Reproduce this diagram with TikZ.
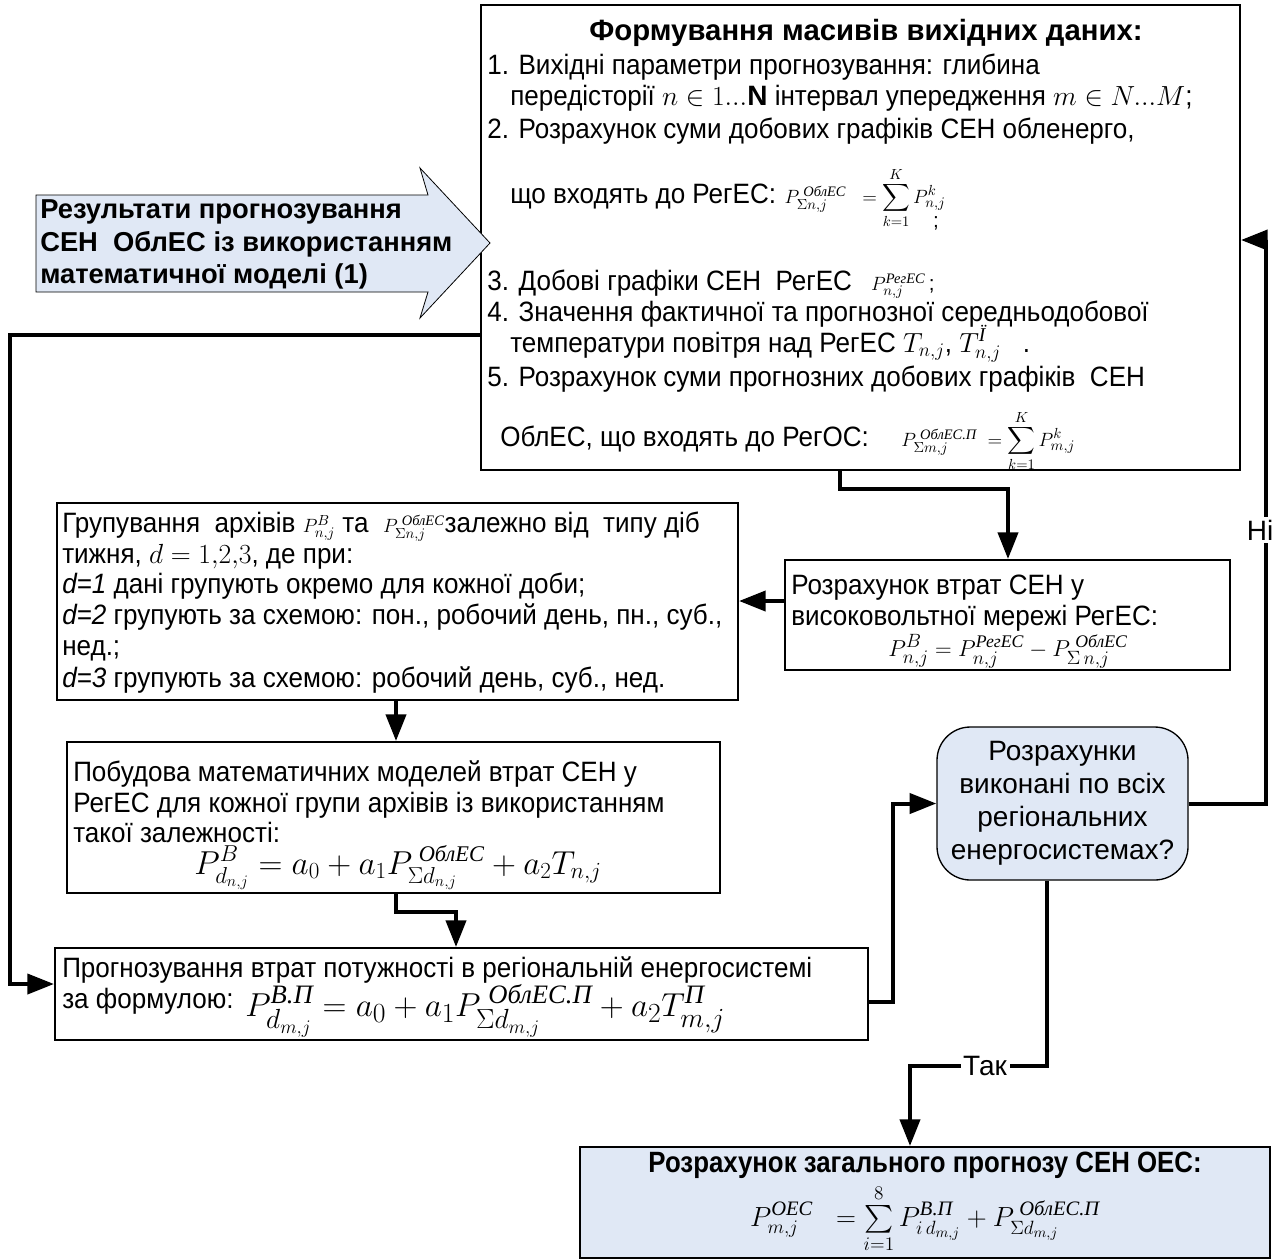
\documentclass[tikz,border=0pt]{standalone}
\usepackage{amsmath}
\usepackage{fontspec}
\setmainfont{Liberation Sans}
\newfontfamily\nar[FakeStretch=0.93]{Liberation Sans}
\newfontfamily\narb[FakeStretch=0.88]{Liberation Sans}
\newfontfamily\tms{Liberation Serif}
\usetikzlibrary{arrows.meta,calc,fit}
\newcommand\cy[1]{\text{\tms\itshape #1}}
\newcommand\tf{\fontsize{21}{25}\selectfont\nar}
\newcommand\sm{\fontsize{15.5}{18}\selectfont}
\definecolor{lb}{RGB}{224,232,245}
\begin{document}
\begin{tikzpicture}[x=0.75pt,y=-0.75pt,
  box/.style={draw,line width=1.5pt,inner sep=0pt},
  conn/.style={line width=3pt,-{Triangle[length=20pt,width=15pt]}},
  txt/.style={anchor=base west,inner sep=0pt,font=\tf},
  fml/.style={anchor=base west,inner sep=0pt,font=\sm},
  lab/.style={fill=white,inner sep=2pt,font=\fontsize{21}{25}\selectfont}]
\useasboundingbox (0,0) rectangle (1277,1258);

% ---------- top box
\node[box,fit={(481,5) (1240,470)}] (top) {};
\node[anchor=base,inner sep=0pt,font=\fontsize{22}{26}\selectfont\bfseries] (t0) at (866,40) {Формування масивів вихідних даних:};
\node[txt] (t1) at (487,74) {1. Вихідні параметри прогнозування: глибина};
\node[txt] (t2) at (510,105) {передісторії $n\in 1...\mathbf{N}$ інтервал упередження $m\in N...M$;};
\node[txt] (t3) at (487,138) {2. Розрахунок суми добових графіків СЕН обленерго,};
\node[txt] (t4) at (510,203) {що входять до РегЕС:};
\node[fml] (f1) at ([xshift=6pt]t4.base east) {$P_{\Sigma n,j}^{\;\cy{ОблЕС}}\;\;=\displaystyle\sum_{k=1}^{K}P_{n,j}^{k}$};
\node[anchor=base,inner sep=0pt,font=\sm] (f1s) at ($(f1.base east)+(-10,24)$) {;};
\node[txt] (t5) at (487,290) {3. Добові графіки СЕН\ \ РегЕС};
\node[fml] (f2) at ([xshift=14pt]t5.base east) {$P_{n,j}^{\cy{РегЕС}}$\,;};
\node[txt] (t6) at (487,321) {4. Значення фактичної та прогнозної середньодобової};
\node[txt] (t7) at (510,352) {температури повітря над РегЕС $T_{n,j}$, $T_{n,j}^{\cy{Ï}}$\ \ \ .};
\node[txt] (t8) at (487,386) {5. Розрахунок суми прогнозних добових графіків\ \ СЕН};
\node[txt] (t9) at (500,446) {ОблЕС, що входять до РегОС:};
\node[fml] (f3) at ([xshift=24pt]t9.base east) {$P_{\Sigma m,j}^{\;\cy{ОблЕС.П}}\;=\displaystyle\sum_{k=1}^{K}P_{m,j}^{k}$};

% ---------- block arrow
\draw[fill=lb,line width=0.6pt] (36,195) -- (428,195) -- (420,168) -- (490,243) -- (420,318) -- (428,292) -- (36,292) -- cycle;
\node[anchor=north west,align=left,inner sep=0pt,font=\fontsize{20.5}{24.7}\selectfont\bfseries] (res) at (40,199)
  {Результати прогнозування\\СЕН\ \ ОблЕС із використанням\\математичної моделі (1)};

% ---------- group box
\node[box,fit={(57,503) (738,700)}] (grp) {};
\node[txt] (g1) at (62,532) {Групування\ \ архівів {\sm$P_{n,j}^{B}$} та\ \ {\sm$P_{\Sigma n,j}^{\;\cy{ОблЕС}}$}залежно від\ \ типу діб};
\node[txt] (g2) at (62,563) {тижня, $d=1{,}2{,}3$, де при:};
\node[txt] (g3) at (62,593) {\itshape d=1\upshape\ дані групують окремо для кожної доби;};
\node[txt] (g4) at (62,624) {\itshape d=2\upshape\ групують за схемою: пон., робочий день, пн., суб.,};
\node[txt] (g5) at (62,655) {нед.;};
\node[txt] (g6) at (62,687) {\itshape d=3\upshape\ групують за схемою: робочий день, суб., нед.};

% ---------- right box
\node[box,fit={(785,560) (1230,670)}] (rbx) {};
\node[txt] (r1) at (791,594) {Розрахунок втрат СЕН у};
\node[txt] (r2) at (791,625) {високовольтної мережі РегЕС:};
\node[anchor=base,inner sep=0pt,font=\fontsize{19}{23}\selectfont] (rf) at (1008,656) {$P_{n,j}^{B}=P_{n,j}^{\cy{РегЕС}}-P_{\Sigma\,n,j}^{\;\cy{ОблЕС}}$};

% ---------- models box
\node[box,fit={(67,742) (720,893)}] (mod) {};
\node[txt] (m1) at (73,781) {Побудова математичних моделей втрат СЕН у};
\node[txt] (m2) at (73,812) {РегЕС для кожної групи архівів із використанням};
\node[txt] (m3) at (73,842) {такої залежності:};
\node[anchor=base,inner sep=0pt,font=\fontsize{24}{28}\selectfont] (mf) at (398,874) {$P_{d_{n,j}}^{B}=a_0+a_1P_{\Sigma d_{n,j}}^{\;\cy{ОблЕС}}+a_2T_{n,j}$};

% ---------- forecast box
\node[box,fit={(55,948) (868,1040)}] (fore) {};
\node[txt] (p1) at (62,977) {Прогнозування втрат потужності в регіональній енергосистемі};
\node[txt] (p2) at (62,1008) {за формулою:};
\node[anchor=base west,inner sep=0pt,font=\fontsize{28.5}{32}\selectfont] (pf) at (245,1016) {$P_{d_{m,j}}^{\cy{B.П}}=a_0+a_1P_{\Sigma d_{m,j}}^{\;\cy{ОблЕС.П}}+a_2T_{m,j}^{\cy{П}}$};

% ---------- decision box
\node[draw,line width=1pt,fill=lb,rounded corners=25pt,fit={(937,727) (1188,880)},inner sep=0pt] (dec) {};
\node[align=center,inner sep=0pt,font=\fontsize{21}{24.8}\selectfont] (dt) at (dec.center) {Розрахунки\\виконані по всіх\\регіональних\\енергосистемах?};

% ---------- bottom box
\node[draw,line width=1.5pt,fill=lb,fit={(580,1147) (1270,1258)},inner sep=0pt] (bot) {};
\node[anchor=base,inner sep=0pt,font=\fontsize{22}{26}\selectfont\narb\bfseries] (b1) at (925,1172) {Розрахунок загального прогнозу СЕН ОЕС:};
\node[anchor=base,inner sep=0pt,font=\fontsize{22}{26}\selectfont] (bf) at (925,1226) {$P_{m,j}^{\cy{ОЕС}}\;\;=\sum\limits_{i=1}^{8}P_{i\,d_{m,j}}^{\cy{B.П}}+P_{\Sigma d_{m,j}}^{\;\cy{ОблЕС.П}}$};

% ---------- coordinates
\coordinate (yl) at (0,335);
\coordinate (xl) at (10,0);
\coordinate (gx) at (396,0);
\coordinate (fx) at (456,0);
\coordinate (tx) at (840,0);
\coordinate (rx) at (1008,0);
\coordinate (yg) at (0,601);
\coordinate (xc) at (893,0);
\coordinate (xn) at (1266,0);
\coordinate (yn) at (0,240);
\coordinate (yt) at (0,1066);
\coordinate (xt) at (910,0);
\coordinate (yf) at (0,984);
\coordinate (yc) at (0,1002);

% ---------- connectors
\draw[conn] (top.west |- yl) -- (xl |- yl) -- (xl |- yf) -- (fore.west |- yf);
\draw[conn] (top.south -| tx) -- ++(0,18) -| (rbx.north -| rx);
\draw[conn] (rbx.west |- yg) -- (grp.east |- yg);
\draw[conn] (grp.south -| gx) -- (mod.north -| gx);
\draw[conn] (mod.south -| gx) -- ++(0,18) -| (fore.north -| fx);
\draw[conn] (fore.east |- yc) -- (xc |- yc) -- (xc |- dec.west) -- (dec.west);
\draw[conn] (dec.east) -- (xn |- dec.east) -- (xn |- yn) -- (top.east |- yn);
\node[lab] (ni) at (1260,530) {Ні};
\draw[conn] ([xshift=-12pt]dec.south) -- ([xshift=-12pt]dec.south |- yt) -- (xt |- yt) -- (bot.north -| xt);
\node[lab] (tak) at (985,1066) {Так};
\end{tikzpicture}
\end{document}
